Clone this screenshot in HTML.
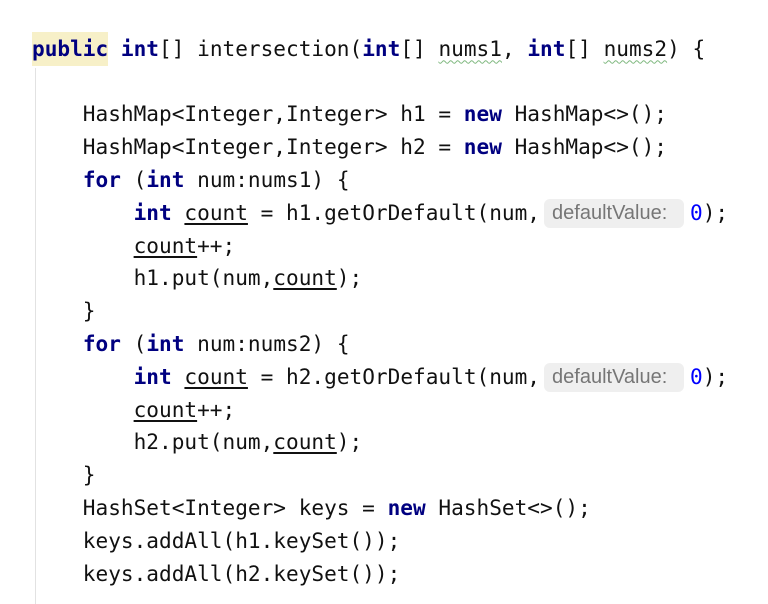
<!DOCTYPE html>
<html><head><meta charset="utf-8"><style>
html,body{margin:0;padding:0;background:#fff;width:768px;height:604px;overflow:hidden;}
pre{position:absolute;left:32px;top:31.6px;margin:0;font-family:"DejaVu Sans Mono","Liberation Mono",monospace;font-size:21.1px;line-height:32.8px;color:#111;}
.k{color:#000080;font-weight:bold;}
.n{color:#0000ff;}
.u{text-decoration:underline;text-underline-offset:3px;}
.w{text-decoration:underline wavy #7fb87f;text-decoration-thickness:1px;text-underline-offset:4px;}
.hl{background:#f7f0c8;display:inline-block;line-height:34px;}
.h{display:inline-block;box-sizing:border-box;width:140px;padding-left:8px;margin:0 6px 0 4px;background:#efefef;border-radius:6px;color:#767676;font-family:"Liberation Sans",sans-serif;font-size:20px;line-height:29px;text-align:left;vertical-align:1px;}
.g{position:absolute;left:35px;top:68px;width:1px;height:536px;background:#e2e2e2;}
</style></head><body>
<div class="g"></div>
<pre><span class="hl k">public</span> <span class="k">int</span>[] intersection(<span class="k">int</span>[] <span class="w">nums1</span>, <span class="k">int</span>[] <span class="w">nums2</span>) {

    HashMap&lt;Integer,Integer&gt; h1 = <span class="k">new</span> HashMap&lt;&gt;();
    HashMap&lt;Integer,Integer&gt; h2 = <span class="k">new</span> HashMap&lt;&gt;();
    <span class="k">for</span> (<span class="k">int</span> num:nums1) {
        <span class="k">int</span> <span class="u">count</span> = h1.getOrDefault(num,<span class="h">defaultValue:</span><span class="n">0</span>);
        <span class="u">count</span>++;
        h1.put(num,<span class="u">count</span>);
    }
    <span class="k">for</span> (<span class="k">int</span> num:nums2) {
        <span class="k">int</span> <span class="u">count</span> = h2.getOrDefault(num,<span class="h">defaultValue:</span><span class="n">0</span>);
        <span class="u">count</span>++;
        h2.put(num,<span class="u">count</span>);
    }
    HashSet&lt;Integer&gt; keys = <span class="k">new</span> HashSet&lt;&gt;();
    keys.addAll(h1.keySet());
    keys.addAll(h2.keySet());</pre>
</body></html>
